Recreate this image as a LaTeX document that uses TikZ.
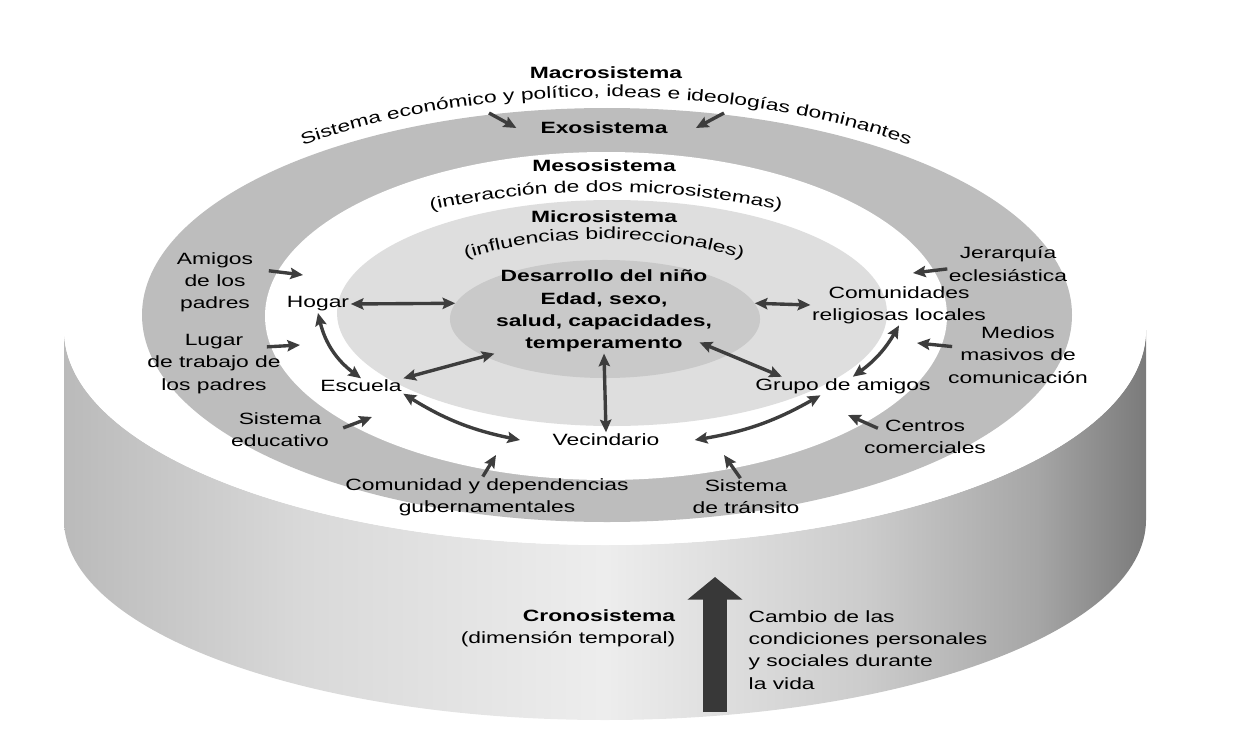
\documentclass[tikz,border=0pt]{standalone}
\usepackage{fontspec}
\setmainfont{Liberation Sans}[FakeStretch=1.4]
\usepackage{tikz}
\usetikzlibrary{arrows.meta,shapes.geometric,decorations.text}

\definecolor{exogris}{gray}{0.74}
\definecolor{microgris}{gray}{0.87}
\definecolor{ninogris}{gray}{0.79}
\definecolor{flechagris}{gray}{0.24}
\newcommand{\letra}{\fontsize{11.6}{15.8}\selectfont}
\pgfdeclarehorizontalshading{lado}{100bp}{color(0bp)=(black!27); color(25bp)=(black!27); color(36bp)=(black!15); color(50bp)=(black!7); color(62bp)=(black!20); color(70bp)=(black!35); color(75bp)=(black!52); color(100bp)=(black!52)}
\tikzstyle{etiqueta}=[font=\letra, align=center, inner sep=1pt]
\tikzstyle{titulo}=[font=\letra\bfseries, align=center, inner sep=1pt]
\tikzstyle{flecha}=[draw=flechagris, line width=2.4pt, -{Stealth[length=9pt,width=8pt,inset=1.5pt]}]
\tikzstyle{doble}=[draw=flechagris, line width=2.4pt, {Stealth[length=9pt,width=8pt,inset=1.5pt]}-{Stealth[length=9pt,width=8pt,inset=1.5pt]}]

\begin{document}
\begin{tikzpicture}[x=0.025cm, y=-0.025cm]
  \useasboundingbox (0,0) rectangle (1236,749);

  \shade[shading=lado] (64,330) -- (64,520) arc[start angle=180, end angle=0, x radius=541, y radius=200]
    -- (1146,330) arc[start angle=0, end angle=180, x radius=541, y radius=215] -- cycle;
  \fill[white] (605,330) ellipse [x radius=541, y radius=215];
  \fill[exogris] (607,315) ellipse [x radius=465, y radius=207];
  \fill[white] (606,316) ellipse [x radius=341, y radius=164];
  \fill[microgris] (612,313) ellipse [x radius=275, y radius=113];
  \node[ellipse, fill=ninogris, minimum width=7.75cm, minimum height=2.95cm, inner sep=0pt] (nucleo) at (605,319) {};

  \node[titulo] (macro) at (606,73) {Macrosistema};
  \node[titulo] (exo) at (604,128) {Exosistema};
  \node[titulo] (meso) at (604,166) {Mesosistema};
  \node[titulo] (micro) at (604,217) {Microsistema};

  \path[decorate, decoration={text along path, text align=center,
      text={|\letra|Sistema económico y político, ideas e ideologías dominantes}}]
    (115.6,289.5) arc[start angle=190, end angle=350, x radius=498, y radius=233];
  \path[decorate, decoration={text along path, text align=center,
      text={|\letra|(interacción de dos microsistemas)}}]
    (261.3,306) arc[start angle=190, end angle=350, x radius=350, y radius=138];
  \path[decorate, decoration={text along path, text align=center,
      text={|\letra|(influencias bidireccionales)}}]
    (386.4,314.2) arc[start angle=190, end angle=350, x radius=221, y radius=91];

  \node[titulo] (nino) at (604,311) {Desarrollo del niño\\Edad, sexo,\\salud, capacidades,\\temperamento};
  \node[etiqueta] (hogar) at (318,304) {Hogar};
  \node[etiqueta] (escuela) at (361,386) {Escuela};
  \node[etiqueta] (vecindario) at (606,440) {Vecindario};
  \node[etiqueta] (grupo) at (843,386) {Grupo de amigos};
  \node[etiqueta] (comunidades) at (899,305) {Comunidades\\religiosas locales};

  \node[etiqueta] (amigospadres) at (215,282) {Amigos\\de los\\padres};
  \node[etiqueta] (trabajo) at (214,364) {Lugar\\de trabajo de\\los padres};
  \node[etiqueta] (educativo) at (280,430) {Sistema\\educativo};
  \node[etiqueta] (gobierno) at (487,497) {Comunidad y dependencias\\gubernamentales};
  \node[etiqueta] (transito) at (746,497) {Sistema\\de tránsito};
  \node[etiqueta] (centros) at (925,437) {Centros\\comerciales};
  \node[etiqueta] (medios) at (1018,355) {Medios\\masivos de\\comunicación};
  \node[etiqueta] (jerarquia) at (1008,264) {Jerarquía\\eclesiástica};

  \draw[doble] (hogar.east) -- (nucleo.174);
  \draw[doble] (nucleo.6) -- (comunidades.west);
  \draw[doble] (hogar.south) to[bend right=20] (escuela.north);
  \draw[doble] (escuela.north east) -- (nino.south west);
  \draw[doble] (nino.south) -- (vecindario.north);
  \draw[doble] ([xshift=-10pt,yshift=8pt]nino.south east) -- ([xshift=20pt]grupo.north west);
  \draw[doble] (comunidades.south) to[bend left=12] ([xshift=7pt]grupo.north);
  \draw[doble] (escuela.south east) to[bend right=10] ([xshift=-22pt]vecindario.west);
  \draw[doble] ([xshift=24pt]vecindario.east) to[bend right=10] ([xshift=-16pt]grupo.south);

  \coordinate (mIzq) at (489,113);
  \coordinate (mDer) at (724,113);
  \coordinate (tAmigos) at (303,275);
  \coordinate (tTrabajo) at (300,345);
  \coordinate (tEducativo) at (372,417);
  \coordinate (tGobierno) at (496,455);
  \coordinate (tTransito) at (724,455);
  \coordinate (tCentros) at (848,415);
  \coordinate (tMedios) at (917,343);
  \coordinate (tJerarquia) at (913,273);
  \draw[flecha] (mIzq) -- ([xshift=-16pt]exo.west);
  \draw[flecha] (mDer) -- ([xshift=19pt]exo.east);
  \draw[flecha] ([xshift=10pt,yshift=8pt]amigospadres.east) -- (tAmigos);
  \draw[flecha] ([xshift=-11pt,yshift=-10pt]trabajo.north east) -- (tTrabajo);
  \draw[flecha] ([xshift=9pt,yshift=1.5pt]educativo.east) -- (tEducativo);
  \draw[flecha] ([xshift=-3pt]gobierno.north) -- (tGobierno);
  \draw[flecha] ([xshift=-4pt]transito.north) -- (tTransito);
  \draw[flecha] ([xshift=11pt,yshift=-7pt]centros.north west) -- (tCentros);
  \draw[flecha] ([xshift=4pt,yshift=6pt]medios.west) -- (tMedios);
  \draw[flecha] ([yshift=-3.5pt]jerarquia.west) -- (tJerarquia);

  \node[etiqueta, align=right, anchor=east] (crono) at (677,628) {\textbf{Cronosistema}\\(dimensión temporal)};
  \node[etiqueta, align=left, anchor=west] (cambio) at (747,650) {Cambio de las\\condiciones personales\\y sociales durante\\la vida};
  \coordinate (cronoBase) at (715,712);
  \coordinate (cronoPunta) at (715,577);
  \draw[draw=black!78, line width=16.5pt, -{Triangle[length=16pt,width=38pt]}] (cronoBase) -- (cronoPunta);
\end{tikzpicture}
\end{document}
